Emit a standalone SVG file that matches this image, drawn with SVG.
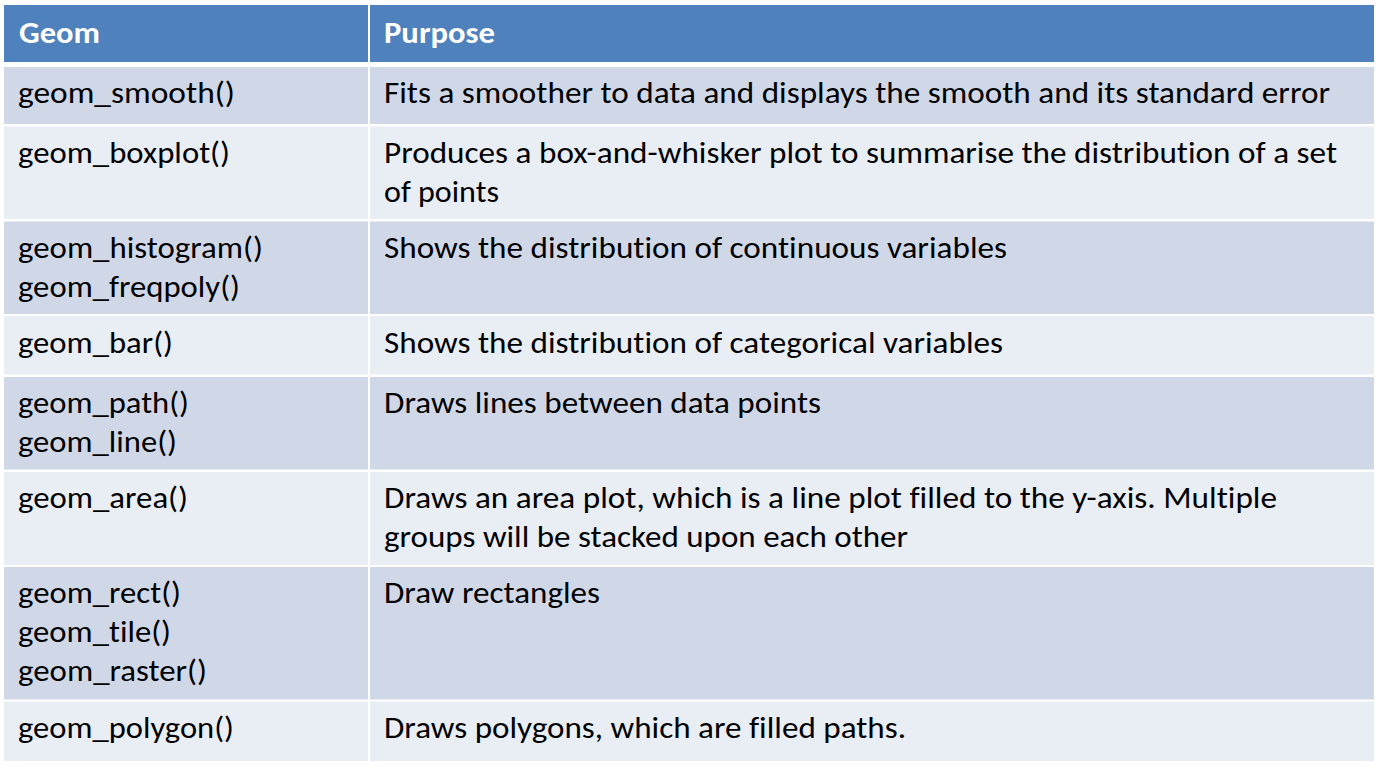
<svg xmlns="http://www.w3.org/2000/svg" width="1379" height="766" viewBox="0 0 1379 766">
<style>
.hd{fill:#4F81BD}
.dk{fill:#D0D8E8}
.lt{fill:#E9EDF4}
text{font-family:Carlito,Calibri,Lato,"Liberation Sans",sans-serif;font-size:30px;fill:#000;font-variant-ligatures:none;font-feature-settings:"liga" 0,"clig" 0,"dlig" 0,"calt" 0;letter-spacing:0.01px}
.th{font-weight:bold;fill:#fff}
</style>
<rect x="0" y="0" width="1379" height="766" fill="#fff"/>
<g id="header">
<rect class="hd" x="4" y="5" width="1370" height="57"/>
<text class="th" x="19" y="43" textLength="81" lengthAdjust="spacingAndGlyphs">Geom</text>
<text class="th" x="384" y="43" textLength="111" lengthAdjust="spacingAndGlyphs">Purpose</text>
</g>
<g id="row-smooth">
<rect class="dk" x="4" y="67" width="1370" height="57"/>
<text x="18" y="103" textLength="217" lengthAdjust="spacingAndGlyphs">geom_smooth()</text>
<text x="384" y="103" textLength="946" lengthAdjust="spacingAndGlyphs">Fits a smoother to data and displays the smooth and its standard error</text>
</g>
<g id="row-boxplot">
<rect class="lt" x="4" y="126.5" width="1370" height="92.5"/>
<text x="18" y="163" textLength="212" lengthAdjust="spacingAndGlyphs">geom_boxplot()</text>
<text x="384" y="163" textLength="953" lengthAdjust="spacingAndGlyphs">Produces a box-and-whisker plot to summarise the distribution of a set</text>
<text x="384" y="202" textLength="115" lengthAdjust="spacingAndGlyphs">of points</text>
</g>
<g id="row-histogram">
<rect class="dk" x="4" y="221.5" width="1370" height="92.5"/>
<text x="18" y="258" textLength="245" lengthAdjust="spacingAndGlyphs">geom_histogram()</text>
<text x="18" y="297" textLength="222" lengthAdjust="spacingAndGlyphs">geom_freqpoly()</text>
<text x="384" y="258" textLength="623" lengthAdjust="spacingAndGlyphs">Shows the distribution of continuous variables</text>
</g>
<g id="row-bar">
<rect class="lt" x="4" y="316" width="1370" height="58.5"/>
<text x="18" y="353" textLength="155" lengthAdjust="spacingAndGlyphs">geom_bar()</text>
<text x="384" y="353" textLength="619" lengthAdjust="spacingAndGlyphs">Shows the distribution of categorical variables</text>
</g>
<g id="row-path">
<rect class="dk" x="4" y="377" width="1370" height="92.5"/>
<text x="18" y="413" textLength="171" lengthAdjust="spacingAndGlyphs">geom_path()</text>
<text x="18" y="452" textLength="159" lengthAdjust="spacingAndGlyphs">geom_line()</text>
<text x="384" y="413" textLength="437" lengthAdjust="spacingAndGlyphs">Draws lines between data points</text>
</g>
<g id="row-area">
<rect class="lt" x="4" y="472" width="1370" height="93"/>
<text x="18" y="508" textLength="170" lengthAdjust="spacingAndGlyphs">geom_area()</text>
<text x="384" y="508" textLength="893" lengthAdjust="spacingAndGlyphs">Draws an area plot, which is a line plot filled to the y-axis. Multiple</text>
<text x="384" y="547" textLength="524" lengthAdjust="spacingAndGlyphs">groups will be stacked upon each other</text>
</g>
<g id="row-rect">
<rect class="dk" x="4" y="567" width="1370" height="132.5"/>
<text x="18" y="603" textLength="163" lengthAdjust="spacingAndGlyphs">geom_rect()</text>
<text x="18" y="642" textLength="153" lengthAdjust="spacingAndGlyphs">geom_tile()</text>
<text x="18" y="681" textLength="189" lengthAdjust="spacingAndGlyphs">geom_raster()</text>
<text x="384" y="603" textLength="216" lengthAdjust="spacingAndGlyphs">Draw rectangles</text>
</g>
<g id="row-polygon">
<rect class="lt" x="4" y="701.5" width="1370" height="59.5"/>
<text x="18" y="738" textLength="216" lengthAdjust="spacingAndGlyphs">geom_polygon()</text>
<text x="384" y="738" textLength="522" lengthAdjust="spacingAndGlyphs">Draws polygons, which are filled paths.</text>
</g>
<rect id="column-divider" x="368" y="5" width="2" height="756" fill="#fff"/>
</svg>
